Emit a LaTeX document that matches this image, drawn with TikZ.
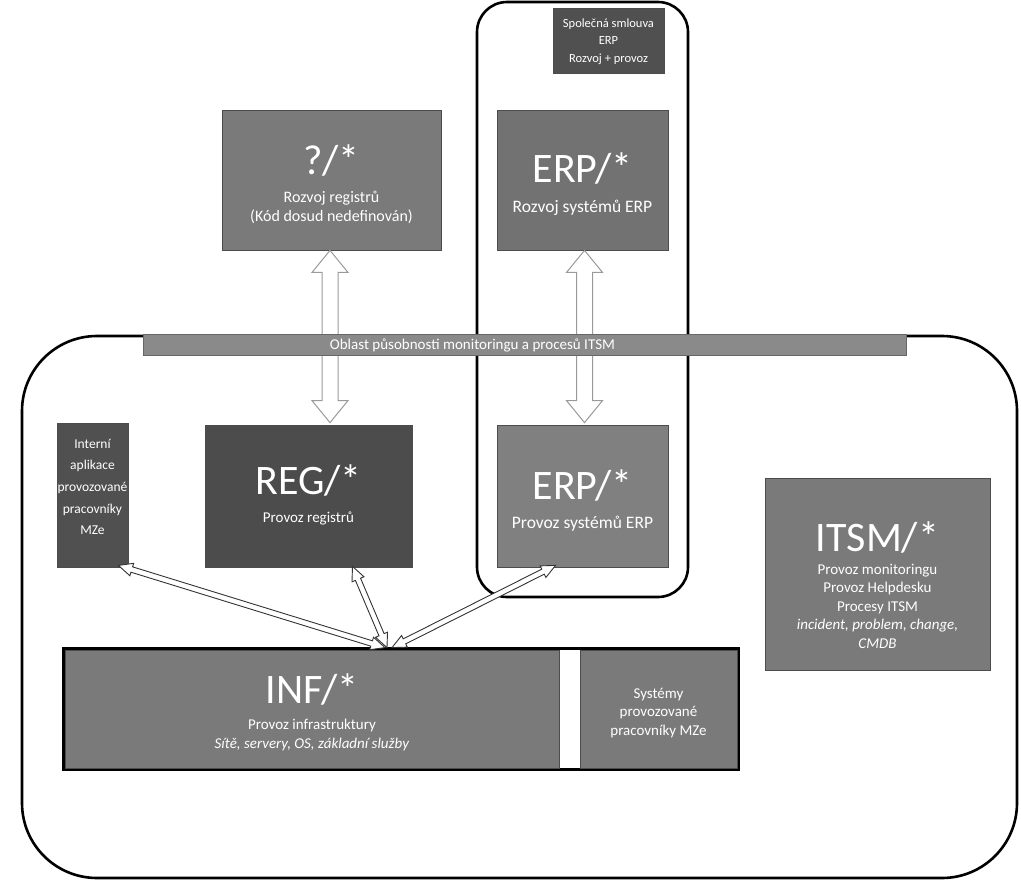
\documentclass[tikz,border=0pt]{standalone}
\usepackage{fontspec}
\setmainfont{Carlito}
\usetikzlibrary{calc,fit,backgrounds}
\definecolor{gMid}{HTML}{7A7A7A}
\definecolor{gErpT}{HTML}{727272}
\definecolor{gDark}{HTML}{505050}
\definecolor{gReg}{HTML}{4C4C4C}
\definecolor{gErpB}{HTML}{808080}
\definecolor{gBan}{HTML}{8A8A8A}
\definecolor{gArrow}{HTML}{9A9A9A}
\tikzset{
  box/.style={draw=black!70, line width=0.8pt, inner sep=0pt},
  txt/.style={text=white, align=center, inner sep=0pt, font=\fontsize{15}{18.5}\selectfont},
  bigarrow/.style={draw=gArrow, fill=white, line width=1pt, line join=miter},
  smallarrow/.style={draw=black!80, fill=white, line width=0.9pt, line join=miter},
  group/.style={draw=black, line width=2.6pt, fill=none}
}
\newcommand{\ttlx}[2]{{\fontsize{42}{42}\selectfont #1}\\[#2]}
% double-headed block arrow: style, A, B, half shaft, half head, head length
\newcommand{\darrow}[6]{%
\draw[#1] (#2) -- ($(#2)!#6!(#3)!#5!90:(#3)$) -- ($(#2)!#6!(#3)!#4!90:(#3)$)
 -- ($(#3)!#6!(#2)!#4!-90:(#2)$) -- ($(#3)!#6!(#2)!#5!-90:(#2)$) -- (#3)
 -- ($(#3)!#6!(#2)!#5!90:(#2)$) -- ($(#3)!#6!(#2)!#4!90:(#2)$)
 -- ($(#2)!#6!(#3)!#4!-90:(#3)$) -- ($(#2)!#6!(#3)!#5!-90:(#3)$) -- cycle;}
\begin{document}
\begin{tikzpicture}[x=1pt,y=-1pt]
\useasboundingbox (0,0) rectangle (1021,884);
% group outlines
\node[group, rounded corners=75pt, minimum width=995pt, minimum height=542pt] (area) at (519.5,607) {};
\node[group, rounded corners=30pt, minimum width=211pt, minimum height=595pt] (erpgroup) at (582.5,299.5) {};
% boxes
\node[box, fill=gDark, minimum width=111pt, minimum height=65pt] (contract) at (608.5,40.5) {};
\node[txt, font=\fontsize{12.5}{17.5}\selectfont] (contractT) at ([yshift=-1pt]contract.center)
  {Společná smlouva\\ERP\\Rozvoj + provoz};
\node[box, fill=gMid, minimum width=219pt, minimum height=140pt] (q) at (331.5,180) {};
\node[txt, font=\fontsize{16}{19}\selectfont] (qT) at ([yshift=-4pt]q.center)
  {\ttlx{?/*}{9pt}Rozvoj registrů\\(Kód dosud nedefinován)};
\node[box, fill=gErpT, minimum width=171pt, minimum height=140pt] (erpdev) at (582.5,180) {};
\node[txt, font=\fontsize{17.5}{20}\selectfont] (erpdevT) at ([yshift=-4pt]erpdev.center)
  {\ttlx{ERP/*}{10pt}Rozvoj systémů ERP};
\node[box, fill=gDark, minimum width=71pt, minimum height=144pt] (int) at (92.5,495) {};
\node[txt, font=\fontsize{13.5}{21.7}\selectfont] (intT) at ([yshift=8pt]int.center)
  {Interní\\aplikace\\provozované\\pracovníky\\MZe};
\node[box, fill=gReg, minimum width=207pt, minimum height=142pt] (reg) at (308.5,496) {};
\node[txt] (regT) at ([yshift=1pt]reg.center) {\ttlx{REG/*}{9pt}Provoz registrů};
\node[box, fill=gErpB, minimum width=171pt, minimum height=142pt] (erpop) at (582.5,496) {};
\node[txt, font=\fontsize{17.5}{20}\selectfont] (erpopT) at ([yshift=-4pt]erpop.center)
  {\ttlx{ERP/*}{9pt}Provoz systémů ERP};
\node[box, fill=gMid, minimum width=225pt, minimum height=192pt] (itsm) at (877.5,574) {};
\node[txt] (itsmT) at ([yshift=-11pt]itsm.center)
  {\ttlx{ITSM/*}{4pt}Provoz monitoringu\\Provoz Helpdesku\\Procesy ITSM\\\textit{incident, problem, change,}\\\textit{CMDB}};
\node[box, fill=gMid, minimum width=494pt, minimum height=118pt] (inf) at (312,709) {};
\node[txt] (infT) at ([yshift=-3pt]inf.center)
  {\ttlx{INF/*}{8pt}Provoz infrastruktury\\\textit{Sítě, servery, OS, základní služby}};
\node[box, fill=gMid, minimum width=157pt, minimum height=118pt] (sys) at (658.5,709) {};
\node[txt] (sysT) at ([yshift=-4pt]sys.center) {Systémy\\provozované\\pracovníky MZe};
\begin{scope}[on background layer]
\fill[white] (0,0) rectangle (1021,884);
\node[draw=black, line width=3pt, fill=white, inner sep=1.5pt, fit=(inf)(sys)] (infframe) {};
\end{scope}
% big double arrows (under the banner)
\coordinate (qa) at ([xshift=-1.5pt]q.south);
\coordinate (qb) at ([xshift=-1.5pt,yshift=2pt]q.south |- reg.north);
\coordinate (ea) at ([xshift=2pt]erpdev.south);
\coordinate (eb) at ([xshift=2pt,yshift=2pt]erpop.north);
\darrow{bigarrow}{qa}{qb}{8pt}{18pt}{22pt}
\darrow{bigarrow}{ea}{eb}{8pt}{18pt}{22pt}
% banner
\node[draw=black!60, line width=0.6pt, fill=gBan, minimum width=763pt, minimum height=21pt, inner sep=0pt] (banner) at (524.5,344.5) {};
\node[txt, font=\fontsize{15}{18}\selectfont] (bannerT) at (472.5,345) {Oblast působnosti monitoringu a procesů ITSM};
% small double arrows
\coordinate (hubA) at ([xshift=73pt,yshift=2pt]inf.north);
\coordinate (hubB) at ([xshift=75pt,yshift=2pt]inf.north);
\coordinate (hubC) at ([xshift=80pt,yshift=2pt]inf.north);
\coordinate (ta) at ([xshift=-10pt,yshift=2pt]int.south east);
\coordinate (tb) at ([xshift=44pt,yshift=1pt]reg.south);
\coordinate (tc) at ([xshift=-27pt,yshift=2pt]erpop.south);
\darrow{smallarrow}{ta}{hubA}{2.8pt}{6.5pt}{14pt}
\darrow{smallarrow}{tb}{hubB}{2.8pt}{6.5pt}{14pt}
\darrow{smallarrow}{tc}{hubC}{2.8pt}{6.5pt}{14pt}
\end{tikzpicture}
\end{document}
